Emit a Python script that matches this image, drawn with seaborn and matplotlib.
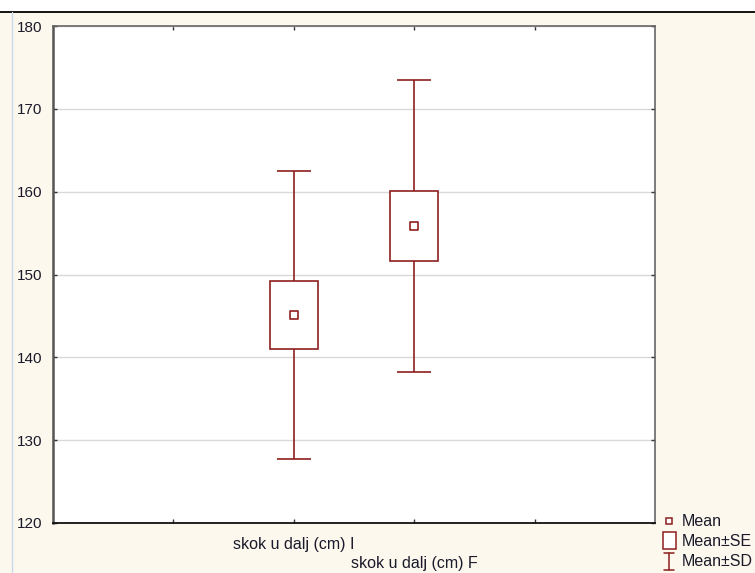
import matplotlib
matplotlib.use("Agg")
import matplotlib.pyplot as plt
from matplotlib.patches import Rectangle
from matplotlib.lines import Line2D
import numpy as np
import pandas as pd
import seaborn as sns

# Variables and their summary statistics (cm)
variables = ["skok u dalj (cm) I", "skok u dalj (cm) F"]
positions = [2, 3]
means = [145.1, 155.85]
se = [4.15, 4.25]
sd = [17.35, 17.6]

y_ticks = [120, 130, 140, 150, 160, 170, 180]
legend_labels = ["Mean", "Mean\u00b1SE", "Mean\u00b1SD"]

RED = "#8e1f1f"
CREAM = "#fdf8ee"
TXT = "#1a1a2a"
FS_Y = 11
FS_X = 11.5

sns.set_theme(style="white")
plt.rcParams["font.family"] = ["Liberation Sans", "DejaVu Sans"]

W, H = 755, 573
fig = plt.figure(figsize=(W / 100, H / 100), dpi=100, facecolor=CREAM)

# White band along the top with a dark rule under it, thin blue edge on the left
fig.patches.append(Rectangle((0, 1 - 11 / H), 1, 11 / H, transform=fig.transFigure,
                             facecolor="white", edgecolor="none", zorder=0))
fig.lines.append(Line2D([0, 1], [1 - 11.5 / H] * 2, transform=fig.transFigure,
                        color="black", lw=1.3))
fig.lines.append(Line2D([11.5 / W] * 2, [0, 1 - 11.5 / H], transform=fig.transFigure,
                        color="#c8d8ee", lw=1.0))

ax = fig.add_axes([53 / W, 1 - 523 / H, (655 - 53) / W, (523 - 26) / H])
ax.set_facecolor("white")

df = pd.DataFrame({"pos": positions, "mean": means, "se": se, "sd": sd, "var": variables})

# Mean ± SD whiskers
ax.errorbar(df["pos"], df["mean"], yerr=df["sd"], fmt="none", ecolor=RED,
            elinewidth=1.2, capsize=12, capthick=1.2, zorder=2)

# Mean ± SE boxes
box_w = 0.4
for p, m, s in zip(df["pos"], df["mean"], df["se"]):
    ax.add_patch(Rectangle((p - box_w / 2, m - s), box_w, 2 * s, facecolor="white",
                           edgecolor=RED, lw=1.2, zorder=3))

# Mean markers
sns.scatterplot(data=df, x="pos", y="mean", marker="s", s=38, color="white",
                edgecolor=RED, linewidth=1.2, zorder=4, ax=ax, legend=False)

ax.set_xlim(0, 5)
ax.set_ylim(120, 180)
ax.set_yticks(y_ticks)
ax.set_xticks([1, 2, 3, 4])
ax.set_xticklabels(["", variables[0], "\n" + variables[1], ""])
ax.set_xlabel("")
ax.set_ylabel("")
ax.grid(axis="y", color="#d9d9d9", lw=1.0)
ax.set_axisbelow(True)
ax.tick_params(direction="in", length=3, width=1, colors="#333333",
               top=True, right=True, bottom=True, left=True,
               labelsize=FS_Y, labelcolor=TXT, pad=8)
ax.tick_params(axis="x", pad=10, labelsize=FS_X)
for lbl in ax.get_xticklabels():
    lbl.set_linespacing(1.35)
ax.spines["left"].set_color("#555555")
ax.spines["left"].set_linewidth(1.8)
ax.spines["bottom"].set_color("#111111")
ax.spines["bottom"].set_linewidth(1.3)
ax.spines["top"].set_color("#666666")
ax.spines["right"].set_color("#666666")
for s in ("top", "right"):
    ax.spines[s].set_linewidth(1.2)

# Legend drawn in figure pixels
def fx(x):
    return x / W

def fy(y):
    return 1 - y / H

fig.lines.append(Line2D([fx(669)], [fy(521)], transform=fig.transFigure, marker="s",
                        markersize=4.5, markerfacecolor="white", markeredgecolor=RED,
                        markeredgewidth=1.1, linestyle="none"))
fig.patches.append(Rectangle((fx(662.5), fy(549)), 13 / W, 17 / H, transform=fig.transFigure,
                             facecolor="white", edgecolor=RED, lw=1.1))
fig.lines.append(Line2D([fx(669)] * 2, [fy(553), fy(570)], transform=fig.transFigure,
                        color=RED, lw=1.1))
fig.lines.append(Line2D([fx(664), fx(674)], [fy(553)] * 2, transform=fig.transFigure,
                        color=RED, lw=1.1))
fig.lines.append(Line2D([fx(664), fx(674)], [fy(570)] * 2, transform=fig.transFigure,
                        color=RED, lw=1.1))
for lab, y in zip(legend_labels, [521, 541, 561]):
    fig.text(fx(682), fy(y), lab, fontsize=FS_X, color=TXT, va="center", ha="left")

fig.savefig("out.png", dpi=100, facecolor=CREAM)
